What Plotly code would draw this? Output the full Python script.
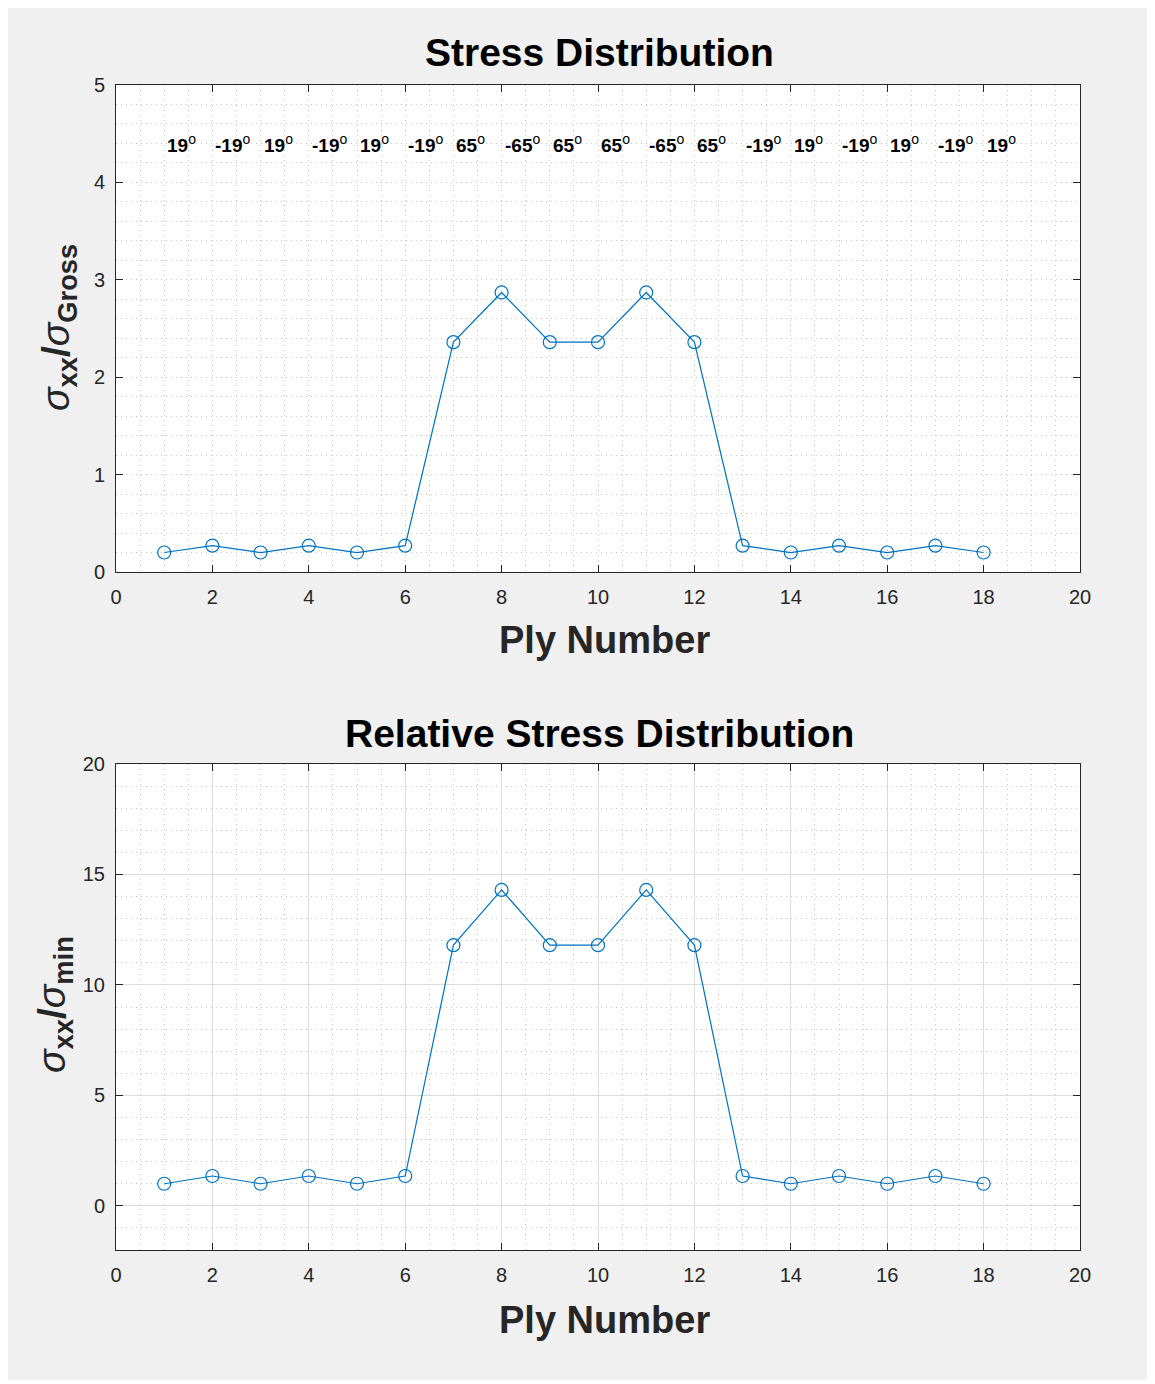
import plotly.graph_objects as go

# ---- data ----
ply = list(range(1, 19))
angles = [19, -19, 19, -19, 19, -19, 65, -65, 65, 65, -65, 65, -19, 19, -19, 19, -19, 19]
stress = [0.20, 0.27, 0.20, 0.27, 0.20, 0.27, 2.36, 2.87, 2.36, 2.36, 2.87, 2.36,
          0.27, 0.20, 0.27, 0.20, 0.27, 0.20]
rel_stress = [1.00, 1.35, 1.00, 1.35, 1.00, 1.35, 11.8, 14.3, 11.8, 11.8, 14.3, 11.8,
              1.35, 1.00, 1.35, 1.00, 1.35, 1.00]
label_y = 4.4
xticks = list(range(0, 21, 2))

OFF = 8  # page body margin
W, H = 1139, 1372
FONT = "Liberation Sans, Arial, sans-serif"
BLUE = "#0072BD"
AX = "#262626"

def px(x):
    return (x - OFF) / W

def py(y):
    return 1 - (y - OFF) / H

fig = go.Figure()
fig.add_trace(go.Scatter(x=ply, y=stress, mode="lines+markers", xaxis="x", yaxis="y",
                         line=dict(color=BLUE, width=1.2),
                         marker=dict(symbol="circle-open", size=13, color=BLUE, line=dict(width=1.2)),
                         showlegend=False, hoverinfo="skip"))
fig.add_trace(go.Scatter(x=ply, y=rel_stress, mode="lines+markers", xaxis="x2", yaxis="y2",
                         line=dict(color=BLUE, width=1.2),
                         marker=dict(symbol="circle-open", size=13, color=BLUE, line=dict(width=1.2)),
                         showlegend=False, hoverinfo="skip"))

common_x = dict(range=[0, 20], tickvals=xticks, showline=True, linecolor=AX, linewidth=1,
                mirror="ticks", ticks="inside", ticklen=7, tickcolor=AX, zeroline=False,
                automargin=False,
                tickfont=dict(family=FONT, size=20, color=AX), ticklabelstandoff=7)
common_y = dict(showline=True, linecolor=AX, linewidth=1, mirror="ticks", ticks="inside",
                ticklen=7, tickcolor=AX, zeroline=False, automargin=False,
                tickfont=dict(family=FONT, size=20, color=AX), ticklabelstandoff=6)

DOT = "#c4c4c4"
DASH = "1px,4px"
dom_x = [px(116), px(1080)]

fig.update_layout(
    width=W, height=H, margin=dict(l=0, r=0, t=0, b=0),
    paper_bgcolor="#f0f0f0", plot_bgcolor="white",
    xaxis=dict(domain=dom_x, anchor="y", showgrid=True, gridcolor=DOT, griddash=DASH, gridwidth=1,
               minor=dict(dtick=0.5, tick0=0, showgrid=True, gridcolor=DOT, griddash=DASH, gridwidth=1),
               **common_x),
    yaxis=dict(domain=[py(572), py(85)], anchor="x", range=[0, 5], tickvals=[0, 1, 2, 3, 4, 5],
               showgrid=True, gridcolor=DOT, griddash=DASH, gridwidth=1,
               minor=dict(dtick=0.2, tick0=0, showgrid=True, gridcolor=DOT, griddash=DASH, gridwidth=1),
               **common_y),
    xaxis2=dict(domain=dom_x, anchor="y2", showgrid=True, gridcolor="#dcdcdc", gridwidth=1,
                minor=dict(dtick=0.5, tick0=0, showgrid=True, gridcolor=DOT, griddash=DASH, gridwidth=1),
                **common_x),
    yaxis2=dict(domain=[py(1250), py(764)], anchor="x2", range=[-2, 20], tickvals=[0, 5, 10, 15, 20],
                showgrid=True, gridcolor="#dcdcdc", gridwidth=1,
                minor=dict(dtick=1, tick0=0, showgrid=True, gridcolor=DOT, griddash=DASH, gridwidth=1),
                **common_y),
)

ann = []
# angle labels
for p, a in zip(ply, angles):
    ann.append(dict(x=p, y=label_y, xref="x", yref="y", xanchor="left", yanchor="middle",
                    text=f"<b>{a}</b><sup><span style='font-size:14px'>o</span></sup>",
                    showarrow=False, xshift=1,
                    font=dict(family=FONT, size=19, color="black")))

def title(text, y):
    return dict(x=px(599), y=py(y), xref="paper", yref="paper", xanchor="center", yanchor="middle",
                text=f"<b>{text}</b>", showarrow=False, font=dict(family=FONT, size=39, color="black"))

def xlab(y):
    return dict(x=px(604), y=py(y), xref="paper", yref="paper", xanchor="center", yanchor="middle",
                text="<b>Ply Number</b>", showarrow=False, font=dict(family=FONT, size=38, color=AX))

def ylab(text, x, y):
    return dict(x=px(x), y=py(y), xref="paper", yref="paper", xanchor="center", yanchor="middle",
                text=text, showarrow=False, textangle=-90, font=dict(family=FONT, size=39, color=AX))

ann += [title("Stress Distribution", 53), title("Relative Stress Distribution", 733),
        xlab(640), xlab(1320),
        ylab("<i>σ</i><sub><b>xx</b></sub><b>/</b><i>σ</i><sub><b>Gross</b></sub>", 58, 328),
        ylab("<i>σ</i><sub><b>xx</b></sub><b>/</b><i>σ</i><sub><b>min</b></sub>", 54, 1005)]
fig.update_layout(annotations=ann)

fig.write_html("out.html")
